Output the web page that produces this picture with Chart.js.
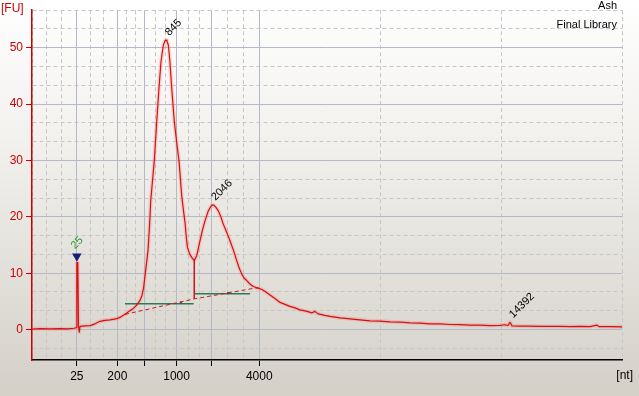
<!DOCTYPE html>
<html>
<head>
<meta charset="utf-8">
<script src="https://cdn.jsdelivr.net/npm/chart.js@4.4.1/dist/chart.umd.min.js"></script>
<style>
  html, body { margin: 0; padding: 0; }
  body {
    width: 639px; height: 396px; overflow: hidden;
    background: linear-gradient(to bottom, #ffffff 0%, #f2f1ee 35%, #d4d0c8 100%);
  }
  canvas { display: block; }
</style>
</head>
<body>
<canvas id="chart" width="639" height="396"></canvas>
<script>
// migration time (s) of the ladder peaks and their size labels
const ladderTime  = [22.80, 26.23, 28.52, 31.25, 34.21, 38.26];
const ladderLabel = ['25', '200', '', '1000', '', '4000'];
const xMin = 19, xMax = 69;
const yMin = -5.4, yMax = 170 / 3;

// electropherogram trace (time s, fluorescence FU)
const traceTime = [
  19.00, 19.68, 20.53, 21.37, 22.05, 22.56, 22.73, 22.80, 22.88, 22.94, 23.01, 23.07,
  23.49, 23.92, 24.34, 24.76, 25.19, 25.61, 26.20, 26.54, 26.88, 27.22, 27.56, 27.81,
  27.98, 28.15, 28.32, 28.45, 28.58, 28.70, 28.83, 28.96, 29.06, 29.21, 29.36, 29.57,
  29.76, 29.93, 30.13, 30.27, 30.36, 30.44, 30.55, 30.69, 30.84, 31.06, 31.25, 31.46,
  31.69, 31.84, 31.97, 32.08, 32.18, 32.35, 32.53, 32.75, 32.96, 33.11, 33.24, 33.45,
  33.66, 33.94, 34.13, 34.28, 34.42, 34.59, 34.79, 34.98, 35.21, 35.48, 35.78, 36.08,
  36.35, 36.54, 36.77, 36.97, 37.20, 37.47, 37.75, 38.03, 38.32, 38.49, 38.75, 39.17,
  39.59, 40.02, 40.44, 40.86, 41.29, 41.71, 42.14, 42.73, 42.98, 43.24, 43.83, 44.25,
  45.10, 45.95, 46.80, 47.64, 48.49, 49.34, 50.19, 51.03, 51.88, 52.73, 53.58, 54.42,
  55.27, 56.12, 56.97, 57.81, 58.66, 59.08, 59.34, 59.51, 59.68, 60.36, 61.20, 62.05,
  62.90, 63.75, 64.59, 65.44, 66.29, 66.88, 67.05, 67.98, 69.00
];
const traceFU = [
  0.09, 0.18, 0.11, 0.16, 0.12, 0.23, 0.32, 11.88, 11.88, 0.58, -0.48, 0.58,
  0.67, 0.71, 1.02, 1.46, 1.64, 1.73, 1.94, 2.26, 2.70, 3.23, 3.71, 4.20,
  4.64, 5.17, 6.05, 7.29, 9.58, 11.70, 14.00, 18.41, 22.82, 26.35, 29.88, 36.94,
  42.82, 47.53, 50.48, 51.24, 51.36, 51.15, 50.53, 47.53, 42.82, 36.94, 33.41, 29.88,
  23.70, 21.06, 18.94, 16.29, 14.53, 13.47, 12.81, 12.23, 13.11, 14.53, 15.76, 17.70,
  19.29, 21.06, 21.76, 22.11, 22.06, 21.67, 21.06, 20.17, 18.71, 17.35, 15.76, 14.00,
  12.23, 11.00, 9.88, 9.14, 8.70, 8.08, 7.64, 7.41, 7.24, 7.11, 6.76, 6.14,
  5.52, 4.82, 4.47, 4.11, 3.85, 3.49, 3.32, 2.97, 3.23, 2.79, 2.52, 2.35,
  2.08, 1.91, 1.73, 1.55, 1.50, 1.38, 1.32, 1.20, 1.15, 1.02, 1.01, 0.90,
  0.86, 0.79, 0.78, 0.71, 0.76, 0.85, 0.72, 1.29, 0.65, 0.62, 0.60, 0.58,
  0.55, 0.58, 0.53, 0.55, 0.53, 0.79, 0.53, 0.51, 0.49
];

// peak split drop line
const dropTime = [32.75, 32.75];
const dropFU   = [12.23, 5.47];

// interpolated baseline (dashed)
const baseTime = [26.88, 32.75, 38.19];
const baseFU   = [2.70, 5.44, 7.47];

// smear region lines
const region1Time = [26.88, 32.70];
const region1FU   = [4.59, 4.59];
const region2Time = [32.79, 37.48];
const region2FU   = [6.35, 6.35];
const regionDotTime = [31.63, 35.61];
const regionDotFU   = [4.77, 6.46];

// peak labels
const peakTime  = [30.36, 34.28, 59.51];
const peakFU    = [51.36, 22.11, 1.29];
const peakLabel = ['845', '2046', '14392'];

// lower marker
const markerTime = 22.80, markerFU = 13.0, markerLabel = '25';

const sampleName = 'Ash';
const sampleTitle = 'Final Library';

const pts = (xs, ys) => xs.map((x, i) => ({ x: x, y: ys[i] }));

// x grid: ladder lines solid, thirds between them dashed
const xBounds = [xMin, ...ladderTime, xMax];
const xTicks = [];
for (let i = 0; i < xBounds.length - 1; i++) {
  const a = xBounds[i], d = xBounds[i + 1] - a;
  xTicks.push(a, a + d / 3, a + 2 * d / 3);
}
xTicks.push(xMax);
const isXMajor = v => ladderTime.includes(v);

const yTicks = [];
for (let k = -1; k <= 17; k++) yTicks.push(k * 10 / 3);
const isYMajor = v => Math.abs(v / 10 - Math.round(v / 10)) < 1e-6;

const FONT = 'Liberation Sans, Arial, sans-serif';
const RED = '#cc0000';
const MAJOR_GRID = '#b3b9c5';
const MINOR_GRID = '#c6c6c6';

const overlay = {
  id: 'overlay',
  afterDatasetsDraw(chart) {
    const { ctx, scales: { x, y } } = chart;
    ctx.save();
    ctx.font = '11px ' + FONT;
    ctx.fillStyle = '#000';
    ctx.textAlign = 'left';
    ctx.textBaseline = 'middle';
    peakLabel.forEach((t, i) => {
      const px = x.getPixelForValue(peakTime[i]);
      const py = y.getPixelForValue(peakFU[i]);
      ctx.save();
      ctx.translate(px + 1, py - 6);
      ctx.rotate(-Math.PI / 4);
      ctx.fillText(t, 0, 0);
      ctx.restore();
    });
    const mx = x.getPixelForValue(markerTime);
    const my = y.getPixelForValue(markerFU);
    ctx.fillStyle = '#2c9a2c';
    ctx.save();
    ctx.translate(mx - 4, my - 9);
    ctx.rotate(-Math.PI / 4);
    ctx.fillText(markerLabel, 0, 0);
    ctx.restore();

    ctx.font = '12px ' + FONT;
    ctx.fillStyle = RED;
    ctx.fillText('[FU]', 1, 9);
    ctx.fillStyle = '#000';
    ctx.textAlign = 'right';
    ctx.fillText('[nt]', 633, 376);
    ctx.font = '11px ' + FONT;
    ctx.fillText(sampleName, 617, 6);
    ctx.fillText(sampleTitle, 617, 25);
    ctx.restore();
  }
};

new Chart(document.getElementById('chart'), {
  type: 'scatter',
  data: {
    datasets: [
      {
        data: pts(traceTime, traceFU), showLine: true, order: 1,
        borderColor: '#d41010', borderWidth: 1.2, pointRadius: 0, tension: 0,
        borderJoinStyle: 'round'
      },
      {
        data: pts(traceTime, traceFU), showLine: true, order: 5,
        borderColor: 'rgba(255,90,90,0.22)', borderWidth: 4, pointRadius: 0, tension: 0,
        borderJoinStyle: 'round', borderCapStyle: 'round'
      },
      {
        data: pts(dropTime, dropFU), showLine: true, order: 1,
        borderColor: '#d41010', borderWidth: 1.5, pointRadius: 0
      },
      {
        data: pts(baseTime, baseFU), showLine: true, order: 2,
        borderColor: '#c81818', borderWidth: 1, borderDash: [4, 3], pointRadius: 0
      },
      {
        data: pts(region1Time, region1FU), showLine: true, order: 3,
        borderColor: '#2a7a5c', borderWidth: 1.5, pointRadius: 0
      },
      {
        data: pts(region2Time, region2FU), showLine: true, order: 3,
        borderColor: '#2a7a5c', borderWidth: 1.5, pointRadius: 0
      },
      {
        data: pts(regionDotTime, regionDotFU), showLine: false, order: 2,
        pointStyle: 'rect', pointRadius: 1.5, backgroundColor: '#8a3a30', borderWidth: 0
      },
      {
        data: [{ x: markerTime, y: markerFU }], showLine: false, order: 0,
        pointStyle: 'triangle', rotation: 180, pointRadius: 5.5,
        backgroundColor: '#1c1c78', borderColor: '#1c1c78', borderWidth: 0
      }
    ]
  },
  options: {
    responsive: false,
    animation: false,
    devicePixelRatio: 1,
    layout: { padding: { top: 8, right: 17, left: 0, bottom: 0 } },
    plugins: { legend: { display: false }, tooltip: { enabled: false } },
    scales: {
      x: {
        type: 'linear', min: xMin, max: xMax,
        afterBuildTicks: s => { s.ticks = xTicks.map(v => ({ value: v })); },
        afterFit: s => { s.height = 36; },
        ticks: {
          autoSkip: false, maxRotation: 0, padding: 3,
          color: '#000', font: { family: FONT, size: 12 },
          callback: v => { const i = ladderTime.indexOf(v); return i >= 0 ? ladderLabel[i] : ''; }
        },
        grid: {
          color: c => (c.tick && isXMajor(c.tick.value)) ? MAJOR_GRID : MINOR_GRID,
          tickColor: c => (c.tick && isXMajor(c.tick.value)) ? '#000' : 'rgba(0,0,0,0)',
          tickLength: 6, lineWidth: 1
        },
        border: {
          color: '#000', width: 1.5,
          dash: c => (c.tick && !isXMajor(c.tick.value)) ? [4, 3] : []
        }
      },
      y: {
        type: 'linear', min: yMin, max: yMax,
        afterBuildTicks: s => { s.ticks = yTicks.map(v => ({ value: v })); },
        afterFit: s => { s.width = 32; },
        ticks: {
          autoSkip: false, padding: 3,
          color: RED, font: { family: FONT, size: 12 },
          callback: v => isYMajor(v) ? String(Math.round(v)) : ''
        },
        grid: {
          color: c => (c.tick && isYMajor(c.tick.value)) ? MAJOR_GRID : MINOR_GRID,
          tickColor: c => (c.tick && isYMajor(c.tick.value)) ? RED : 'rgba(0,0,0,0)',
          tickLength: 6, lineWidth: 1
        },
        border: {
          color: RED, width: 1.5,
          dash: c => (c.tick && !isYMajor(c.tick.value)) ? [4, 3] : []
        }
      }
    }
  },
  plugins: [overlay]
});
</script>
</body>
</html>
